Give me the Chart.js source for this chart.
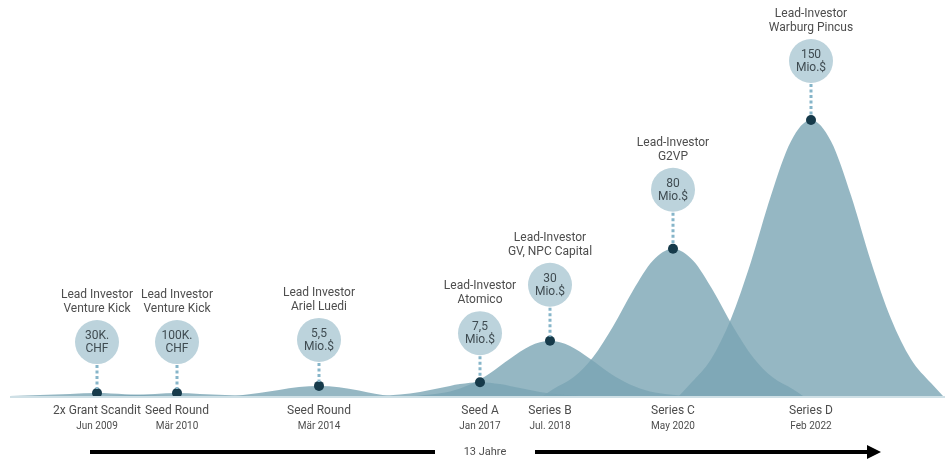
<!DOCTYPE html>
<html>
<head>
<meta charset="utf-8">
<script src="https://cdn.jsdelivr.net/npm/chart.js@4/dist/chart.umd.min.js"></script>
<style>
  body { margin: 0; background: #fff; }
  #wrap { width: 945px; height: 466px; }
</style>
</head>
<body>
<div id="wrap"><canvas id="funding"></canvas></div>
<script>
// timeline position of each round and its size (Mio.$, tiny rounds shown as a small bump)
const positions = [97, 177, 319, 480, 550, 673, 811];
const peaks = [1.6, 1.6, 5.5, 7.5, 30, 80, 150];

const rounds = ['2x Grant Scandit', 'Seed Round', 'Seed Round', 'Seed A', 'Series B', 'Series C', 'Series D'];
const dates = ['Jun 2009', 'Mär 2010', 'Mär 2014', 'Jan 2017', 'Jul. 2018', 'May 2020', 'Feb 2022'];
const investors = [
    ['Lead Investor', 'Venture Kick'],
    ['Lead Investor', 'Venture Kick'],
    ['Lead Investor', 'Ariel Luedi'],
    ['Lead-Investor', 'Atomico'],
    ['Lead-Investor', 'GV, NPC Capital'],
    ['Lead-Investor', 'G2VP'],
    ['Lead-Investor', 'Warburg Pincus']
];
const amounts = [
    ['30K.', 'CHF'],
    ['100K.', 'CHF'],
    ['5,5', 'Mio.$'],
    ['7,5', 'Mio.$'],
    ['30', 'Mio.$'],
    ['80', 'Mio.$'],
    ['150', 'Mio.$']
];

// hump outlines: [position, height]
const curve_grant = [[10, 0], [40, 0.5], [70, 1.1], [97, 1.6], [125, 1.0], [150, 0.4], [175, 0]];
const curve_seed_2010 = [[105, 0], [130, 0.5], [155, 1.1], [177, 1.6], [200, 1.1], [225, 0.5], [255, 0]];
const curve_seed_2014 = [[235, 0], [259, 1.6], [279, 3.3], [299, 4.85], [319, 5.5], [339, 4.8], [359, 3.0], [375, 1.2], [390, 0]];
const curve_seed_a = [[380, 0], [400, 0.8], [420, 2.2], [440, 4.3], [460, 6.5], [480, 7.5], [500, 6.5], [520, 4.3], [540, 2.2], [560, 0.8], [580, 0]];
const curve_series_b = [[415, 0], [430, 0.8], [450, 2.5], [470, 6.2], [490, 12.3], [510, 20.2], [530, 27.2], [550, 30], [570, 27.2], [590, 20.2], [610, 12.3], [630, 6.2], [650, 2.5], [670, 0.8], [685, 0]];
const curve_series_c = [[543, 0], [553, 3.7], [573, 10], [593, 21.1], [613, 37.8], [633, 57.3], [653, 73.6], [673, 80], [693, 73.6], [713, 57.3], [733, 37.8], [753, 21.1], [773, 10], [793, 3.7], [803, 0]];
const curve_series_d = [[679, 0], [691, 7], [711, 20], [731, 42], [751, 73], [771, 109], [791, 138.5], [811, 150], [831, 138.5], [851, 109], [871, 73], [891, 42], [911, 20], [931, 7], [943, 0]];

const curves = [curve_grant, curve_seed_2010, curve_seed_2014, curve_seed_a, curve_series_b, curve_series_c, curve_series_d];

// distance in px from dot to bubble centre
const stem_len = [51, 51, 46, 49, 56, 59, 59];

const FONT = 'Roboto, "DejaVu Sans", sans-serif';

function hump(points) {
    return {
        type: 'line',
        data: points.map(p => ({ x: p[0], y: p[1] })),
        fill: 'origin',
        backgroundColor: 'rgba(122, 165, 180, 0.8)',
        borderWidth: 0,
        pointRadius: 0,
        cubicInterpolationMode: 'monotone',
        order: 2
    };
}

const annotate = {
    id: 'annotate',
    beforeDatasetsDraw(chart) {
        const { ctx, scales: { x, y } } = chart;
        const by = y.getPixelForValue(0);
        ctx.save();
        ctx.strokeStyle = '#cfe0e6';
        ctx.lineWidth = 2;
        ctx.beginPath();
        ctx.moveTo(x.getPixelForValue(10), by + 1);
        ctx.lineTo(x.getPixelForValue(945), by + 1);
        ctx.stroke();
        ctx.restore();
    },
    afterDatasetsDraw(chart) {
        const { ctx, scales: { x, y } } = chart;
        const by = y.getPixelForValue(0);
        ctx.save();
        ctx.textAlign = 'center';
        ctx.textBaseline = 'middle';

        positions.forEach((pos, i) => {
            const px = x.getPixelForValue(pos);
            const py = y.getPixelForValue(peaks[i]);
            const cy = py - stem_len[i];

            // dotted stem
            ctx.save();
            ctx.setLineDash([3, 2.5]);
            ctx.lineWidth = 3;
            ctx.strokeStyle = '#86b5c9';
            ctx.beginPath();
            ctx.moveTo(px, cy + 23);
            ctx.lineTo(px, py - 4);
            ctx.stroke();
            ctx.restore();

            // bubble
            ctx.fillStyle = '#bcd3dc';
            ctx.beginPath();
            ctx.arc(px, cy, 22, 0, Math.PI * 2);
            ctx.fill();

            ctx.fillStyle = '#3f4b51';
            ctx.font = '12px ' + FONT;
            ctx.fillText(amounts[i][0], px, cy - 6);
            ctx.fillText(amounts[i][1], px, cy + 7);

            // investor above bubble
            ctx.fillStyle = '#4d4d4d';
            ctx.fillText(investors[i][0], px, cy - 47);
            ctx.fillText(investors[i][1], px, cy - 33);

            // round and date below the base
            ctx.fillText(rounds[i], px, by + 15);
            ctx.font = '10px ' + FONT;
            ctx.fillText(dates[i], px, by + 30);
        });
        ctx.restore();
    },
    afterDraw(chart) {
        const { ctx } = chart;
        const ay = 452;
        ctx.save();
        ctx.strokeStyle = '#000';
        ctx.fillStyle = '#000';
        ctx.lineWidth = 4;
        ctx.beginPath();
        ctx.moveTo(90, ay);
        ctx.lineTo(435, ay);
        ctx.moveTo(535, ay);
        ctx.lineTo(869, ay);
        ctx.stroke();
        ctx.beginPath();
        ctx.moveTo(867, ay - 7);
        ctx.lineTo(881, ay);
        ctx.lineTo(867, ay + 7);
        ctx.closePath();
        ctx.fill();

        ctx.fillStyle = '#4d4d4d';
        ctx.font = '11px ' + FONT;
        ctx.textAlign = 'center';
        ctx.textBaseline = 'middle';
        ctx.fillText('13 Jahre', 485, ay);
        ctx.restore();
    }
};

new Chart(document.getElementById('funding'), {
    data: {
        datasets: [
            ...curves.map(hump),
            {
                type: 'scatter',
                data: positions.map((p, i) => ({ x: p, y: peaks[i] })),
                pointRadius: 5,
                pointHoverRadius: 5,
                pointBackgroundColor: '#163a4a',
                pointBorderWidth: 0,
                order: 1
            }
        ]
    },
    options: {
        responsive: true,
        maintainAspectRatio: false,
        animation: false,
        layout: { autoPadding: false, padding: { left: 0, right: 0, top: 0, bottom: 70 } },
        scales: {
            x: { type: 'linear', min: 0, max: 945, display: false },
            y: { type: 'linear', min: 0, max: 215.2, display: false }
        },
        plugins: {
            legend: { display: false },
            tooltip: { enabled: false }
        }
    },
    plugins: [annotate]
});
</script>
</body>
</html>
